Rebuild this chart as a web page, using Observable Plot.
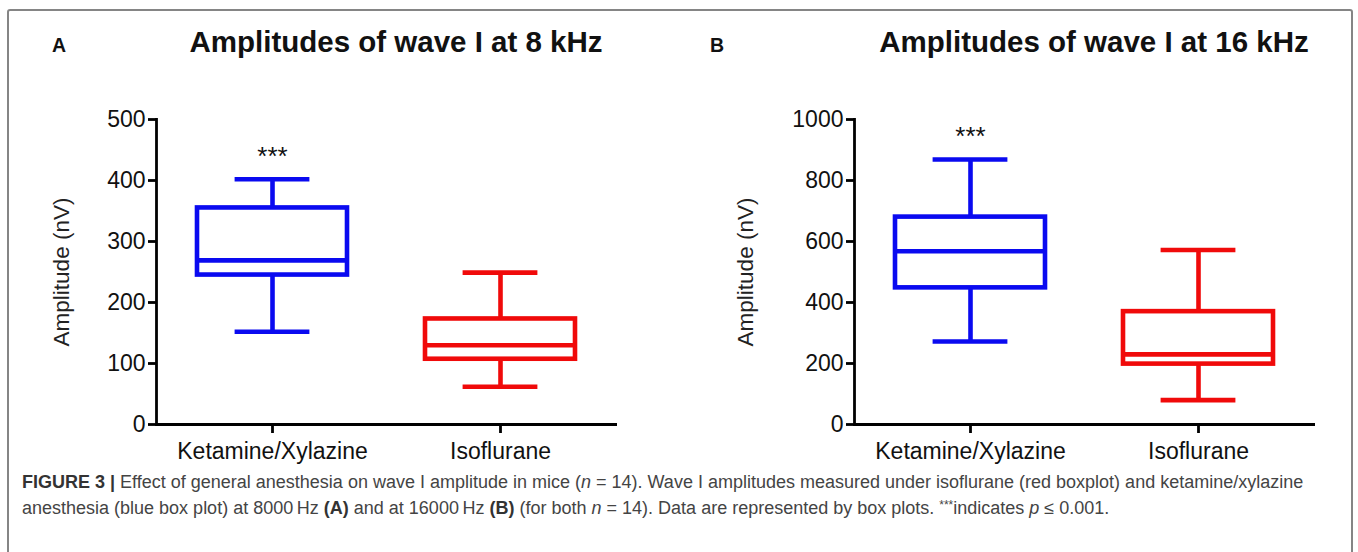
<!DOCTYPE html>
<html>
<head>
<meta charset="utf-8">
<script src="https://cdn.jsdelivr.net/npm/d3@7"></script>
<script src="https://cdn.jsdelivr.net/npm/@observablehq/plot@0.6"></script>
<style>
  html, body { margin: 0; padding: 0; background: #fff; }
  body { width: 1358px; height: 552px; position: relative; overflow: hidden; font-family: "Liberation Sans", Arial, sans-serif; }
  #frame { position: absolute; left: 7px; top: 9px; width: 1346px; height: 600px; border: 2px solid #858585; border-radius: 3px; box-sizing: border-box; }
  .panel { position: absolute; top: 100px; }
  #overlay { position: absolute; left: 0; top: 0; }
</style>
</head>
<body>
<div id="frame"></div>
<div id="panelA" class="panel" style="left:0px"></div>
<div id="panelB" class="panel" style="left:680px"></div>
<svg id="overlay" width="1358" height="552" xmlns="http://www.w3.org/2000/svg"></svg>
<script>
// ---- data ----
const groups = ["Ketamine/Xylazine", "Isoflurane"];
const boxColors = ["#0a0af0", "#f00a0a"];

// Panel A: wave I amplitude at 8 kHz (nV)
const minA = [152, 62];
const q1A  = [245, 107];
const medA = [269, 130];
const q3A  = [355, 173];
const maxA = [402, 249];
const ticksA = [0, 100, 200, 300, 400, 500];
const sigA = 426;

// Panel B: wave I amplitude at 16 kHz (nV)
const minB = [272, 80];
const q1B  = [448, 198];
const medB = [568, 230];
const q3B  = [680, 370];
const maxB = [869, 572];
const ticksB = [0, 200, 400, 600, 800, 1000];
const sigB = 916;

const sigText = "***";
const yLabel = "Amplitude (nV)";
const titles = ["Amplitudes of wave I at 8 kHz", "Amplitudes of wave I at 16 kHz"];
const panelLetters = ["A", "B"];

const FONT = "'Liberation Sans', Arial, Helvetica, sans-serif";
const SW = 4.6;

function boxPanel({mins, q1s, meds, q3s, maxs, ticks, sig, width, marginLeft, marginRight, labelDx}) {
  const rows = groups.map((g, i) => ({
    g, color: boxColors[i], min: mins[i], q1: q1s[i], med: meds[i], q3: q3s[i], max: maxs[i]
  }));
  const capInset = 37.6;
  return Plot.plot({
    width, height: 380,
    marginLeft, marginRight, marginTop: 19, marginBottom: 56,
    style: {fontFamily: FONT, fontSize: "23px", color: "#111", background: "transparent", overflow: "visible"},
    x: {type: "band", domain: groups, paddingInner: 0.34, paddingOuter: 0.18},
    y: {domain: [0, ticks[ticks.length - 1]]},
    color: {type: "identity"},
    marks: [
      Plot.ruleX(rows, {x: "g", y1: "min", y2: "q1", stroke: "color", strokeWidth: SW}),
      Plot.ruleX(rows, {x: "g", y1: "q3", y2: "max", stroke: "color", strokeWidth: SW}),
      Plot.tickY(rows, {x: "g", y: "min", stroke: "color", strokeWidth: SW, insetLeft: capInset, insetRight: capInset}),
      Plot.tickY(rows, {x: "g", y: "max", stroke: "color", strokeWidth: SW, insetLeft: capInset, insetRight: capInset}),
      Plot.barY(rows, {x: "g", y1: "q1", y2: "q3", fill: "none", stroke: "color", strokeWidth: SW}),
      Plot.tickY(rows, {x: "g", y: "med", stroke: "color", strokeWidth: SW}),
      Plot.text([{g: groups[0], y: sig}], {x: "g", y: "y", text: () => sigText, fontSize: 26, lineAnchor: "bottom", fill: "#111"}),
      Plot.axisY({ticks, tickFormat: d => String(d), tickSize: 8, tickPadding: 3, strokeWidth: 2.8, stroke: "#000", fontSize: 23, label: null}),
      Plot.axisX({tickSize: 9, tickPadding: 9, strokeWidth: 2.8, stroke: "#000", fontSize: 23, label: null}),
      Plot.frame({anchor: "left", stroke: "#000", strokeWidth: 2.8}),
      Plot.ruleY([0], {stroke: "#000", strokeWidth: 2.8}),
      Plot.text([yLabel], {text: d => d, frameAnchor: "left", textAnchor: "middle", dx: labelDx, rotate: -90, fontSize: 22.5, fill: "#222"})
    ]
  });
}

document.getElementById("panelA").append(boxPanel({
  mins: minA, q1s: q1A, meds: medA, q3s: q3A, maxs: maxA, ticks: ticksA, sig: sigA,
  width: 680, marginLeft: 156, marginRight: 63, labelDx: -94.5
}));
document.getElementById("panelB").append(boxPanel({
  mins: minB, q1s: q1B, meds: medB, q3s: q3B, maxs: maxB, ticks: ticksB, sig: sigB,
  width: 678, marginLeft: 174, marginRight: 43, labelDx: -109
}));

// ---- titles, panel letters, caption ----
const ov = d3.select("#overlay").style("font-family", FONT);
const titleX = [396, 1094];
const letterX = [52, 710];
titles.forEach((t, i) => {
  ov.append("text").attr("x", titleX[i]).attr("y", 52).attr("text-anchor", "middle")
    .attr("font-size", 29.5).attr("font-weight", "bold").attr("fill", "#111").text(t);
  ov.append("text").attr("x", letterX[i]).attr("y", 52)
    .attr("font-size", 19.5).attr("font-weight", "bold").attr("fill", "#111").text(panelLetters[i]);
});

const captionLines = [
  [["FIGURE 3 | ", "b"], ["Effect of general anesthesia on wave I amplitude in mice ("], ["n", "i"], [" = 14). Wave I amplitudes measured under isoflurane (red boxplot) and ketamine/xylazine"]],
  [["anesthesia (blue box plot) at 8000\u2009Hz "], ["(A)", "b"], [" and at 16000\u2009Hz "], ["(B)", "b"], [" (for both "], ["n", "i"], [" = 14). Data are represented by box plots. "], ["***", "s"], ["indicates ", "after"], ["p", "i"], [" \u2264 0.001."]]
];
const capY = [488, 514];
captionLines.forEach((parts, li) => {
  const t = ov.append("text").attr("x", 22).attr("y", capY[li]).attr("font-size", 18).attr("fill", "#444");
  parts.forEach(([s, st]) => {
    const ts = t.append("tspan").text(s);
    if (st === "b") ts.attr("font-weight", "bold").attr("fill", "#333");
    if (st === "i") ts.attr("font-style", "italic");
    if (st === "s") ts.attr("font-size", 12).attr("dy", -5);
    if (st === "after") ts.attr("dy", 5);
  });
});
</script>
</body>
</html>
